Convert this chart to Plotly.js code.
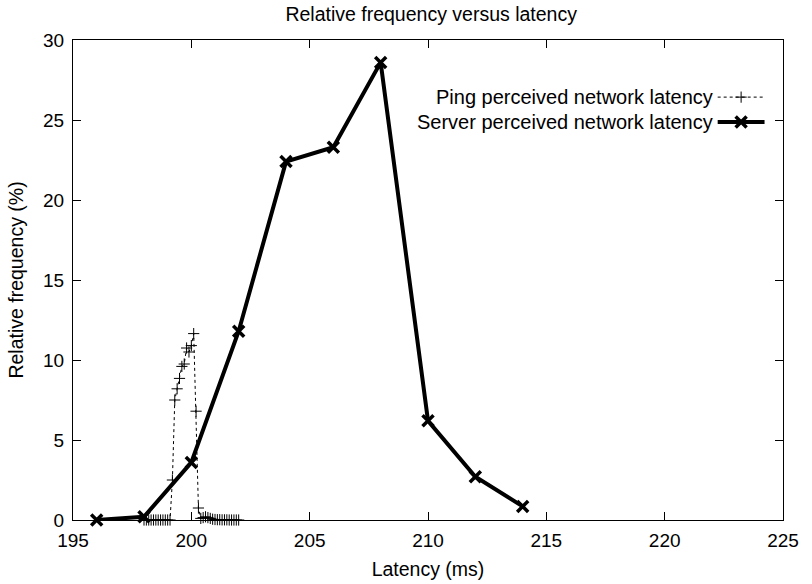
<!DOCTYPE html>
<html>
<head>
<meta charset="utf-8">
<script src="https://cdn.plot.ly/plotly-3.0.1.min.js"></script>
<style>html,body{margin:0;padding:0;background:#fff;}#chart{width:812px;height:584px;}</style>
</head>
<body>
<div id="chart"></div>
<script>
// Ping perceived network latency (ms, %)
const pingLatency = [198.0,198.1,198.2,198.3,198.4,198.5,198.6,198.7,198.8,198.9,199.0,199.1,
  199.2,199.3,199.4,199.5,199.6,199.7,199.8,199.9,200.0,200.1,200.2,200.3,
  200.4,200.5,200.6,200.7,200.8,200.9,201.0,201.1,201.2,201.3,201.4,201.5,201.6,201.7,201.8,201.9,202.0];
const pingFreq = [0,0,0,0,0,0,0,0,0,0,0,0,
  2.5,7.5,8.2,8.85,9.6,9.75,10.75,10.5,10.9,11.65,6.8,0.75,
  0.1,0.15,0.2,0.15,0.1,0.05,0.03,0.02,0.02,0.01,0.01,0.01,0,0,0,0,0];
// Server perceived network latency
const serverLatency = [196,198,200,202,204,206,208,210,212,214];
const serverFreq = [0.0,0.2,3.6,11.8,22.4,23.3,28.6,6.2,2.7,0.85];

const seriesNames = ['Ping perceived network latency','Server perceived network latency'];
const xTicks = [195,200,205,210,215,220,225];
const yTicks = [0,5,10,15,20,25,30];

const FONT = 'Liberation Sans, Arial, Helvetica, sans-serif';

const pingMarker = {symbol:'cross-thin-open', size:8, color:'#000', line:{color:'#000', width:1}};
const serverMarker = {symbol:'x-thin-open', size:11, color:'#000', line:{color:'#000', width:3.5}};

const traces = [
  {x: pingLatency, y: pingFreq, type:'scatter', mode:'lines+markers', name: seriesNames[0],
   line:{color:'#000', width:1, dash:'dot'}, marker:pingMarker, showlegend:false, cliponaxis:false},
  {x: serverLatency, y: serverFreq, type:'scatter', mode:'lines+markers', name: seriesNames[1],
   line:{color:'#000', width:4}, marker:serverMarker, showlegend:false, cliponaxis:false},
  // legend samples (drawn on a hidden 0..1 overlay)
  {x:[0.908,0.972], y:[0.881,0.881], xaxis:'x2', yaxis:'y2', mode:'lines', type:'scatter',
   line:{color:'#000', width:1, dash:'dot'}, showlegend:false, hoverinfo:'skip'},
  {x:[0.941], y:[0.881], xaxis:'x2', yaxis:'y2', mode:'markers', type:'scatter',
   marker:pingMarker, showlegend:false, hoverinfo:'skip'},
  {x:[0.908,0.974], y:[0.829,0.829], xaxis:'x2', yaxis:'y2', mode:'lines', type:'scatter',
   line:{color:'#000', width:4}, showlegend:false, hoverinfo:'skip'},
  {x:[0.941], y:[0.829], xaxis:'x2', yaxis:'y2', mode:'markers', type:'scatter',
   marker:serverMarker, showlegend:false, hoverinfo:'skip'}
];

const axisCommon = {
  showgrid:false, zeroline:false, showline:true, linecolor:'#000', linewidth:1,
  mirror:'allticks', ticks:'inside', ticklen:8, tickcolor:'#000', tickwidth:1,
  tickfont:{family:FONT, size:19, color:'#000'}
};

const layout = {
  width:812, height:584,
  margin:{l:73, r:29, t:40, b:64},
  paper_bgcolor:'#fff', plot_bgcolor:'#fff',
  title:{text:'Relative frequency versus latency', font:{family:FONT, size:19.5, color:'#000'},
    x:0.531, xanchor:'center', y:0.976, yanchor:'middle'},
  xaxis: Object.assign({}, axisCommon, {range:[195,225], tickvals:xTicks, ticktext:xTicks.map(String),
    ticklabelstandoff:3,
    title:{text:'Latency (ms)', font:{family:FONT, size:19.5, color:'#000'}, standoff:12}}),
  yaxis: Object.assign({}, axisCommon, {range:[0,30], tickvals:yTicks, ticktext:yTicks.map(String),
    ticklabelstandoff:4,
    title:{text:'Relative frequency (%)', font:{family:FONT, size:19.5, color:'#000'}, standoff:14}}),
  xaxis2:{overlaying:'x', range:[0,1], visible:false, fixedrange:true},
  yaxis2:{overlaying:'y', range:[0,1], visible:false, fixedrange:true},
  annotations:[
    {xref:'paper', yref:'paper', x:0.904, y:0.881, xanchor:'right', yanchor:'middle', showarrow:false,
     text:seriesNames[0], font:{family:FONT, size:20, color:'#000'}},
    {xref:'paper', yref:'paper', x:0.904, y:0.829, xanchor:'right', yanchor:'middle', showarrow:false,
     text:seriesNames[1], font:{family:FONT, size:20, color:'#000'}}
  ],
  showlegend:false
};

Plotly.newPlot('chart', traces, layout, {displayModeBar:false, staticPlot:true});
</script>
</body>
</html>
